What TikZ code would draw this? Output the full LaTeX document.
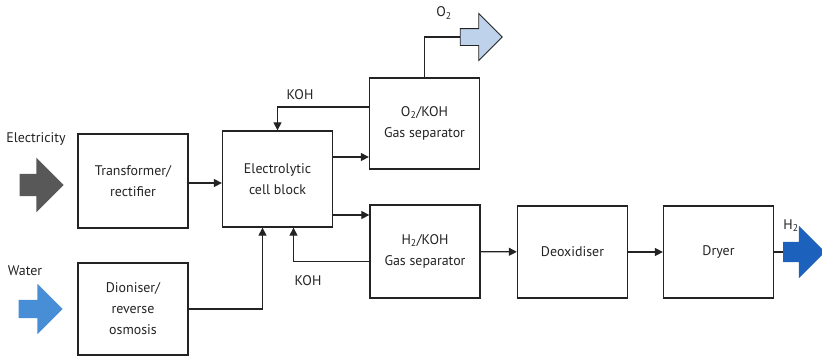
\documentclass[tikz,border=0pt]{standalone}
\usepackage{fontspec}
\setmainfont{PT Sans}
\usetikzlibrary{arrows.meta, positioning, shapes.arrows}
\definecolor{elecgrey}{RGB}{88,88,88}
\definecolor{waterblue}{RGB}{72,142,214}
\definecolor{oxyblue}{RGB}{190,210,236}
\definecolor{hydroblue}{RGB}{28,98,188}
\definecolor{linegrey}{RGB}{35,35,35}

\begin{document}
\begin{tikzpicture}[
    x=1bp, y=-1bp,
    font=\fontsize{14}{21}\selectfont,
    unit/.style={rectangle, draw=linegrey, line width=1.3bp, minimum width=110bp, minimum height=#1, align=center, inner sep=2pt, text=linegrey},
    unit/.default=93bp,
    flow/.style={single arrow, draw=none, fill=#1, minimum height=44bp, inner xsep=0pt, inner ysep=12bp, single arrow head extend=12bp},
    arr/.style={-{Stealth[length=8bp, width=8bp, inset=0pt]}, line width=1.2bp, draw=linegrey},
    pipe/.style={line width=1.2bp, draw=linegrey},
    tag/.style={inner sep=1pt, text=linegrey},
]
\useasboundingbox (0,0) rectangle (822,358);

% Supply side
\node[unit=94bp] (trans) at (133,181) {Transformer/\\rectifier};
\node[unit=92bp] (dion) at (133,309) {Dioniser/\\reverse\\osmosis};
\node[flow=elecgrey, inner ysep=11bp, single arrow head extend=16bp] (elec) at (36,185) {};
\node[flow=waterblue, inner ysep=9bp, single arrow head extend=16bp] (water) at (36,309) {};
\node[tag] (eleclbl) at (36,139) {Electricity};
\node[tag] (waterlbl) at (25,271) {Water};

% Cell and separators
\node[unit=96bp] (cell) at (277.5,179) {Electrolytic\\cell block};
\node[unit=91bp] (o2sep) at (424.5,123.5) {O\textsubscript{2}/KOH\\Gas separator};
\node[unit=93bp] (h2sep) at (425,251.5) {H\textsubscript{2}/KOH\\Gas separator};

% Hydrogen line
\node[unit=92bp] (deox) at (572.5,252) {Deoxidiser};
\node[unit=92bp] (dryer) at (718.5,252) {Dryer};

% Products
\node[flow=oxyblue, draw=linegrey, line width=0.9bp, minimum height=42bp, inner ysep=8bp, single arrow head extend=15bp] (o2out) at (477,37) {};
\node[flow=hydroblue, minimum height=42bp, inner ysep=10bp, single arrow head extend=16bp] (h2out) at (799,252) {};
\node[tag] (o2lbl) at (444,13) {O\textsubscript{2}};
\node[tag] (h2lbl) at (791,226) {H\textsubscript{2}};

% Arrows
\draw[arr] ([yshift=-2bp]trans.east) -- ([yshift=-2bp]trans.east -| cell.west);
\draw[arr] (dion.east) -| ([xshift=-15bp]cell.south);
\draw[arr] ([yshift=22bp]cell.east) -- ([yshift=22bp]cell.east -| o2sep.west);
\draw[arr] ([yshift=-36bp]cell.east) -- ([yshift=-36bp]cell.east -| h2sep.west);
\draw[arr] ([yshift=16.5bp]o2sep.west) -| (cell.north);
\draw[arr] ([yshift=-10bp]h2sep.west) -| ([xshift=16bp]cell.south);
\draw[pipe] (o2sep.north) |- (o2out.west);
\draw[arr] (h2sep) -- (deox);
\draw[arr] (deox) -- (dryer);
\draw[pipe] (dryer) -- (h2out.west);

% KOH returns
\node[tag] (kohtop) at (300,95) {KOH};
\node[tag] (kohbot) at (308,281) {KOH};
\end{tikzpicture}
\end{document}
